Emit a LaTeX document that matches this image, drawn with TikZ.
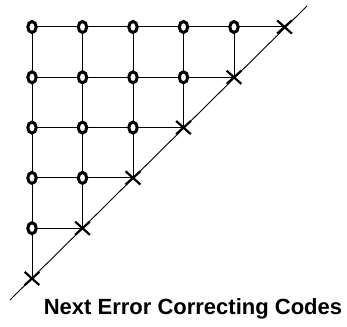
\documentclass[tikz,border=0pt]{standalone}
\usepackage{fontspec}
\setmainfont{Liberation Sans}
\usetikzlibrary{shapes.misc,backgrounds}
\begin{document}
\begin{tikzpicture}[x=1pt,y=-1pt,
  onode/.style={circle,inner sep=0pt,minimum size=11pt},
  oring/.style={draw=black,line width=3pt,fill=white},
  xnode/.style={draw,cross out,minimum width=12.5pt,minimum height=11pt,inner sep=0pt,line width=2.2pt},
  gridline/.style={line width=1pt},
  diagline/.style={line width=0.9pt},
  caption/.style={font=\bfseries\fontsize{22}{26}\selectfont,inner sep=0pt}]
\useasboundingbox (0,0) rectangle (347,326);
% nodes
\foreach \j in {0,...,5}{
  \pgfmathtruncatemacro\m{5-\j}
  \pgfmathtruncatemacro\mm{4-\j}
  \ifnum\m>0
    \foreach \i in {0,...,\mm}{
      \node[onode] (p-\i-\j) at ({32+50.5*\i},{27+50.3*\j}) {};
      \draw[oring] (p-\i-\j.center) ellipse [x radius=4.2pt, y radius=5.5pt];
    }
  \fi
  \node[xnode] (p-\m-\j) at ({32+50.5*\m},{27+50.3*\j}) {};
}
\coordinate (d1) at (10,300);
\coordinate (d2) at (307,6);
\begin{pgfonlayer}{background}
  \foreach \j in {0,...,4}{
    \pgfmathtruncatemacro\m{5-\j}
    \draw[gridline] (p-0-\j.center) -- (p-\m-\j.center);
  }
  \foreach \i in {0,...,4}{
    \pgfmathtruncatemacro\m{5-\i}
    \draw[gridline] (p-\i-0.center) -- (p-\i-\m.center);
  }
  \draw[diagline] (d1) -- (d2);
\end{pgfonlayer}
\node[caption] (cap) at (193,309) {Next Error Correcting Codes};
\end{tikzpicture}
\end{document}
